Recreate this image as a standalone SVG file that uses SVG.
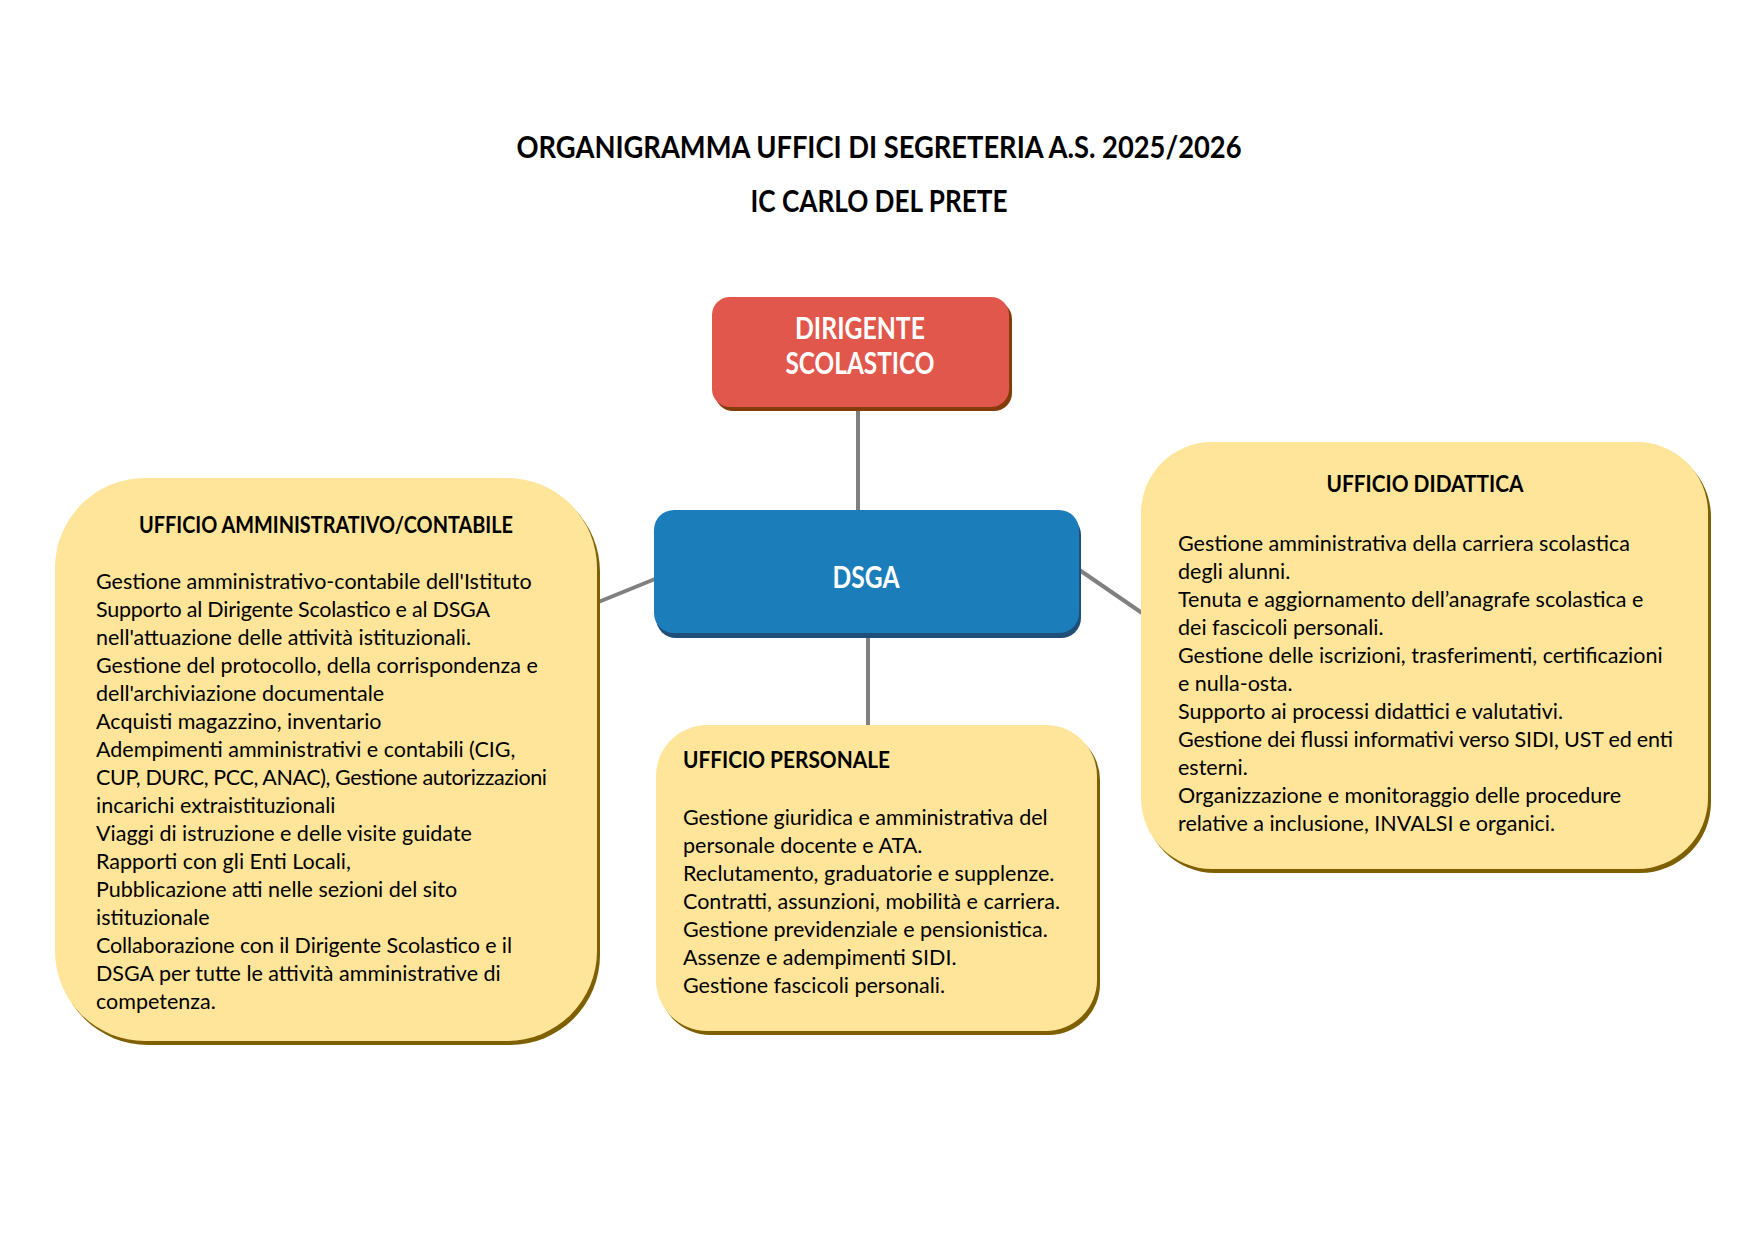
<svg xmlns="http://www.w3.org/2000/svg" width="1755" height="1240" viewBox="0 0 1755 1240">
<style>
  text { font-family: Lato, "Open Sans", "Liberation Sans", sans-serif; fill: #000; }
  .h { font-weight: bold; font-size: 31px; }
  .wh { font-weight: bold; font-size: 30px; fill: #fff; text-anchor: middle; }
  .bt { font-weight: bold; font-size: 22px; }
  .b { font-size: 21.5px; }
  .conn { stroke: #808080; stroke-width: 4; fill: none; }
  .yel { fill: #FFE599; }
  .yelsh { fill: #7F6000; }
</style>
<rect width="1755" height="1240" fill="#fff"/>
<g id="title">
  <text class="h" x="879" y="158" text-anchor="middle" textLength="725" lengthAdjust="spacingAndGlyphs">ORGANIGRAMMA UFFICI DI SEGRETERIA A.S. 2025/2026</text>
  <text class="h" x="879" y="212" text-anchor="middle" textLength="257" lengthAdjust="spacingAndGlyphs">IC CARLO DEL PRETE</text>
</g>
<g id="connectors">
  <line class="conn" x1="858" y1="407" x2="858" y2="511"/>
  <line class="conn" x1="868" y1="633" x2="868" y2="726"/>
  <line class="conn" x1="655" y1="579" x2="596" y2="603"/>
  <line class="conn" x1="1078" y1="569" x2="1142" y2="613"/>
</g>
<g id="node-dirigente">
  <rect x="715" y="301" width="297" height="110" rx="18" fill="#843C0C"/>
  <rect x="712" y="297" width="297" height="110" rx="18" fill="#E2574C"/>
  <text class="wh" x="860" y="339" textLength="130" lengthAdjust="spacingAndGlyphs">DIRIGENTE</text>
  <text class="wh" x="860" y="374" textLength="149" lengthAdjust="spacingAndGlyphs">SCOLASTICO</text>
</g>
<g id="node-dsga">
  <rect x="656" y="515" width="425" height="123" rx="20" fill="#1F4E79"/>
  <rect x="654" y="510" width="425" height="123" rx="20" fill="#1C7DBB"/>
  <text class="wh" x="866" y="588" textLength="67" lengthAdjust="spacingAndGlyphs">DSGA</text>
</g>
<g id="node-amministrativo">
  <rect class="yelsh" x="58" y="482" width="542" height="563" rx="90"/>
  <rect class="yel" x="55" y="478" width="542" height="563" rx="90"/>
  <text class="bt" x="326" y="533" text-anchor="middle" textLength="374" lengthAdjust="spacingAndGlyphs">UFFICIO AMMINISTRATIVO/CONTABILE</text>
  <text class="b" x="96" y="589">Gestione amministrativo-contabile dell'Istituto</text>
  <text class="b" x="96" y="617" textLength="394">Supporto al Dirigente Scolastico e al DSGA</text>
  <text class="b" x="96" y="645">nell'attuazione delle attività istituzionali.</text>
  <text class="b" x="96" y="673">Gestione del protocollo, della corrispondenza e</text>
  <text class="b" x="96" y="701">dell'archiviazione documentale</text>
  <text class="b" x="96" y="729">Acquisti magazzino, inventario</text>
  <text class="b" x="96" y="757">Adempimenti amministrativi e contabili (CIG,</text>
  <text class="b" x="96" y="785" textLength="451">CUP, DURC, PCC, ANAC), Gestione autorizzazioni</text>
  <text class="b" x="96" y="813">incarichi extraistituzionali</text>
  <text class="b" x="96" y="841">Viaggi di istruzione e delle visite guidate</text>
  <text class="b" x="96" y="869">Rapporti con gli Enti Locali,</text>
  <text class="b" x="96" y="897">Pubblicazione atti nelle sezioni del sito</text>
  <text class="b" x="96" y="925">istituzionale</text>
  <text class="b" x="96" y="953" textLength="416">Collaborazione con il Dirigente Scolastico e il</text>
  <text class="b" x="96" y="981">DSGA per tutte le attività amministrative di</text>
  <text class="b" x="96" y="1009">competenza.</text>
</g>
<g id="node-personale">
  <rect class="yelsh" x="659" y="729" width="441" height="306" rx="51"/>
  <rect class="yel" x="656" y="725" width="441" height="306" rx="51"/>
  <text class="bt" x="683" y="768" textLength="207" lengthAdjust="spacingAndGlyphs">UFFICIO PERSONALE</text>
  <text class="b" x="683" y="825">Gestione giuridica e amministrativa del</text>
  <text class="b" x="683" y="853">personale docente e ATA.</text>
  <text class="b" x="683" y="881">Reclutamento, graduatorie e supplenze.</text>
  <text class="b" x="683" y="909">Contratti, assunzioni, mobilità e carriera.</text>
  <text class="b" x="683" y="937">Gestione previdenziale e pensionistica.</text>
  <text class="b" x="683" y="965">Assenze e adempimenti SIDI.</text>
  <text class="b" x="683" y="993">Gestione fascicoli personali.</text>
</g>
<g id="node-didattica">
  <rect class="yelsh" x="1144" y="446" width="567" height="427" rx="71"/>
  <rect class="yel" x="1141" y="442" width="567" height="427" rx="71"/>
  <text class="bt" x="1425" y="492" text-anchor="middle" textLength="197" lengthAdjust="spacingAndGlyphs">UFFICIO DIDATTICA</text>
  <text class="b" x="1178" y="551">Gestione amministrativa della carriera scolastica</text>
  <text class="b" x="1178" y="579">degli alunni.</text>
  <text class="b" x="1178" y="607">Tenuta e aggiornamento dell’anagrafe scolastica e</text>
  <text class="b" x="1178" y="635">dei fascicoli personali.</text>
  <text class="b" x="1178" y="663">Gestione delle iscrizioni, trasferimenti, certificazioni</text>
  <text class="b" x="1178" y="691">e nulla-osta.</text>
  <text class="b" x="1178" y="719">Supporto ai processi didattici e valutativi.</text>
  <text class="b" x="1178" y="747" textLength="495">Gestione dei flussi informativi verso SIDI, UST ed enti</text>
  <text class="b" x="1178" y="775">esterni.</text>
  <text class="b" x="1178" y="803">Organizzazione e monitoraggio delle procedure</text>
  <text class="b" x="1178" y="831">relative a inclusione, INVALSI e organici.</text>
</g>
</svg>
